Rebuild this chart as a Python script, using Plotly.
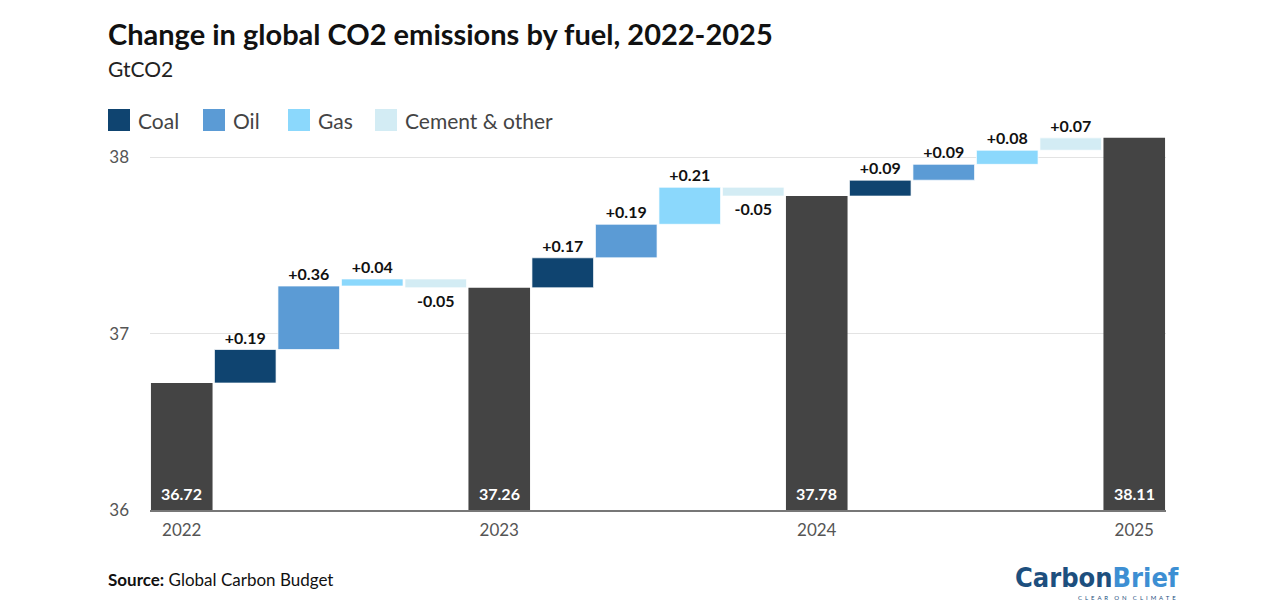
import plotly.graph_objects as go

# ---- data ----
years = ["2022", "2023", "2024", "2025"]
totals = [36.72, 37.26, 37.78, 38.11]
fuels = ["Coal", "Oil", "Gas", "Cement & other"]
coal = [0.19, 0.17, 0.09]
oil = [0.36, 0.19, 0.09]
gas = [0.04, 0.21, 0.08]
cement = [-0.05, -0.05, 0.07]
y_ticks = [36, 37, 38]

colors = {"Coal": "#0f4470", "Oil": "#5b9bd5", "Gas": "#8bd8fc", "Cement & other": "#d3ecf4"}
total_color = "#444444"
FONT = "Lato"
BAR_W = 0.97

W, H = 1261, 606
ML, MR, MT, MB = 150, 95, 122, 96
PW, PH = W - ML - MR, H - MT - MB


def px(x):
    return (x - ML) / PW


def py(y):
    return (H - MB - y) / PH


series = {"Coal": coal, "Oil": oil, "Gas": gas, "Cement & other": cement}

fig = go.Figure()

# totals
total_x = [i * 5 for i in range(len(totals))]
fig.add_trace(go.Bar(
    x=total_x, y=totals, width=BAR_W, marker=dict(color=total_color, line=dict(width=0)),
    showlegend=False, hoverinfo="x+y"))

# increments
for k, fuel in enumerate(fuels):
    xs, ys, bases, texts = [], [], [], []
    for p in range(len(totals) - 1):
        start = totals[p] + sum(series[f][p] for f in fuels[:k])
        v = series[fuel][p]
        xs.append(p * 5 + k + 1)
        ys.append(v)
        bases.append(start)
        texts.append(f"{v:+.2f}")
    fig.add_trace(go.Bar(
        x=xs, y=ys, base=bases, text=texts, textposition="outside", width=BAR_W,
        textfont=dict(family=FONT, size=16, color="#111111", weight="bold"),
        cliponaxis=False,
        marker=dict(color=colors[fuel], line=dict(width=1, color="rgba(255,255,255,0.7)")),
        name=fuel, showlegend=False))

annotations = []
# total labels
for xv, t in zip(total_x, totals):
    annotations.append(dict(x=xv, y=36, xref="x", yref="y", text=f"<b>{t:.2f}</b>",
                            showarrow=False, yanchor="bottom", yshift=5,
                            font=dict(family=FONT, size=16, color="white")))

# title / subtitle
annotations.append(dict(x=px(106), y=py(34), xref="paper", yref="paper", xanchor="left", yanchor="middle",
                        text="<b>Change in global CO2 emissions by fuel, 2022-2025</b>", showarrow=False,
                        font=dict(family=FONT, size=29, color="#111111")))
annotations.append(dict(x=px(106), y=py(68), xref="paper", yref="paper", xanchor="left", yanchor="middle",
                        text="GtCO2", showarrow=False,
                        font=dict(family=FONT, size=21, color="#222222")))

# manual legend
shapes = []
leg_x = [108, 203, 288, 375]
for fuel, lx in zip(fuels, leg_x):
    shapes.append(dict(type="rect", xref="paper", yref="paper",
                       x0=px(lx), x1=px(lx + 22), y0=py(131), y1=py(109),
                       fillcolor=colors[fuel], line=dict(width=0)))
    annotations.append(dict(x=px(lx + 28), y=py(120), xref="paper", yref="paper",
                            xanchor="left", yanchor="middle", text=fuel, showarrow=False,
                            font=dict(family=FONT, size=21, color="#444444")))

# source
annotations.append(dict(x=px(106), y=py(579), xref="paper", yref="paper", xanchor="left", yanchor="middle",
                        text="<b>Source:</b> Global Carbon Budget", showarrow=False,
                        font=dict(family=FONT, size=17, color="#111111")))

# logo
annotations.append(dict(x=px(1181), y=py(577), xref="paper", yref="paper", xanchor="right", yanchor="middle",
                        text="<b><span style='color:#1d4f7e'>Carbon</span><span style='color:#3d8fd3'>Brief</span></b>",
                        showarrow=False,
                        font=dict(family="DejaVu Sans Condensed", size=27)))
annotations.append(dict(x=px(1178), y=py(597), xref="paper", yref="paper", xanchor="right", yanchor="middle",
                        text="C  L  E  A  R    O  N    C  L  I  M  A  T  E", showarrow=False,
                        font=dict(family=FONT, size=6, color="#1d4f7e")))

fig.update_layout(
    width=W, height=H,
    margin=dict(l=ML, r=MR, t=MT, b=MB),
    paper_bgcolor="white", plot_bgcolor="white",
    barmode="overlay",
    annotations=annotations, shapes=shapes,
    showlegend=False,
    font=dict(family=FONT),
)
fig.update_xaxes(
    range=[-0.5, 15.5], tickvals=total_x, ticktext=years,
    showgrid=False, showline=True, linecolor="#777777", linewidth=2,
    tickfont=dict(family=FONT, size=17, color="#555555"), ticks="", ticklabelstandoff=4,
    zeroline=False)
fig.update_yaxes(
    range=[36, 38.2], tickvals=y_ticks, showgrid=True, gridcolor="#e3e3e3", gridwidth=1,
    tickfont=dict(family=FONT, size=17, color="#555555"), ticks="", ticklabelstandoff=20,
    zeroline=False, showline=False)

fig.write_html("out.html", config={"displayModeBar": False},
               post_script="document.body.style.margin='0';document.body.style.overflow='hidden';")
